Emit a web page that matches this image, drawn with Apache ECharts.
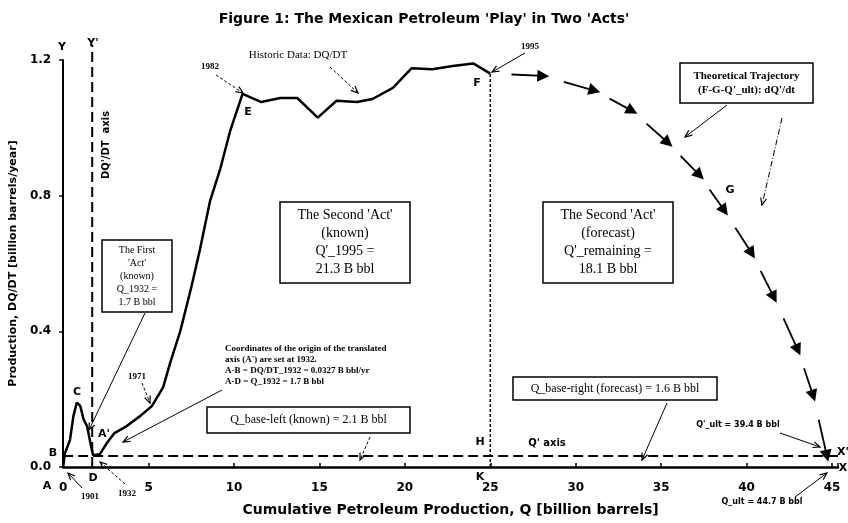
<!DOCTYPE html>
<html>
<head>
<meta charset="utf-8">
<script src="https://cdn.jsdelivr.net/npm/echarts@6/dist/echarts.min.js"></script>
<style>
  html, body { margin: 0; padding: 0; background: #fff; }
  #chart { width: 848px; height: 523px; }
</style>
</head>
<body>
<div id="chart"></div>
<script>
// historic production, Q (billion bbl) vs DQ/DT (billion bbl/yr)
const histQ = [0, 0.1, 0.4, 0.6, 0.8, 1.0, 1.2, 1.4, 1.6, 1.75, 2.15, 2.55, 3.0, 3.7, 4.5, 5.2, 5.85, 6.25, 6.85, 7.5, 8.0, 8.6, 9.2, 9.77, 10.5, 11.6, 12.7, 13.7, 14.9, 16.0, 17.2, 18.1, 19.3, 20.4, 21.6, 22.8, 24.0, 25.0];
const histRate = [0, 0.04, 0.08, 0.15, 0.19, 0.18, 0.14, 0.12, 0.07, 0.035, 0.038, 0.07, 0.10, 0.12, 0.15, 0.18, 0.235, 0.305, 0.40, 0.53, 0.64, 0.785, 0.88, 0.99, 1.10, 1.076, 1.088, 1.088, 1.03, 1.08, 1.076, 1.085, 1.118, 1.176, 1.173, 1.182, 1.19, 1.16];
// theoretical trajectory F-G-Q'_ult (arrow heads)
const foreQ = [25, 28.1, 31.1, 33.3, 35.4, 37.25, 38.7, 40.3, 41.6, 43.0, 43.9, 44.7];
const foreRate = [1.16, 1.153, 1.11, 1.05, 0.956, 0.86, 0.756, 0.63, 0.50, 0.345, 0.21, 0.033];
const baseRate = 0.0327;   // A-B
const q1932 = 1.7;         // A-D
const q1995 = 25;
const rate1995 = 1.16;
const xTicks = [0, 5, 10, 15, 20, 25, 30, 35, 40, 45];
const yTicks = [0.0, 0.4, 0.8, 1.2];

const SANS = "DejaVu Sans";
const SERIF = "Liberation Serif";

let arrowSegs = [];
for (let i = 1; i < foreQ.length; i++) {
  let x0 = foreQ[i - 1], y0 = foreRate[i - 1];
  let x1 = foreQ[i], y1 = foreRate[i];
  arrowSegs.push({ coords: [[x0 + 0.4 * (x1 - x0), y0 + 0.4 * (y1 - y0)], [x1, y1]] });
}

// annotation helpers (pixels)
function txt(x, y, text, font, opt) {
  opt = opt || {};
  return {
    type: "text", x: x, y: y, rotation: opt.rot || 0, z: 100,
    style: {
      text: text, font: font, fill: "#000",
      align: opt.align || "center", textAlign: opt.align || "center",
      verticalAlign: "middle", textVerticalAlign: "middle",
      lineHeight: opt.lh
    }
  };
}
function box(x1, y1, x2, y2, text, font, lh) {
  return [
    { type: "rect", z: 90, shape: { x: x1, y: y1, width: x2 - x1, height: y2 - y1 },
      style: { fill: "#fff", stroke: "#000", lineWidth: 1.5 } },
    txt((x1 + x2) / 2, (y1 + y2) / 2, text, font, { lh: lh })
  ];
}
function arrow(x1, y1, x2, y2, dash) {
  const a = Math.atan2(y2 - y1, x2 - x1), L = 7, W = 3;
  const c = Math.cos(a), s = Math.sin(a);
  return [
    { type: "line", z: 95, shape: { x1: x1, y1: y1, x2: x2, y2: y2 },
      style: { stroke: "#000", lineWidth: 1, lineDash: dash || null } },
    { type: "polyline", z: 95,
      shape: { points: [[x2 - L * c + W * s, y2 - L * s - W * c], [x2, y2], [x2 - L * c - W * s, y2 - L * s + W * c]] },
      style: { stroke: "#000", lineWidth: 1.2, fill: null } }
  ];
}

const fB = "bold 11px " + SANS;
const fS = "10px " + SERIF;

let graphics = [].concat(
  txt(62, 47, "Y", fB), txt(93, 43, "Y'", fB),
  txt(106, 145, "DQ'/DT  axis", "bold 10px " + SANS, { rot: Math.PI / 2 }),
  txt(77, 392, "C", fB), txt(53, 453, "B", fB), txt(47, 486, "A", fB),
  txt(93, 478, "D", fB), txt(104, 434, "A'", fB),
  txt(90, 497, "1901", "bold 9px " + SERIF), arrow(82, 488, 68, 473),
  txt(127, 494, "1932", "bold 9px " + SERIF), arrow(125, 484, 100, 462, [3, 2]),
  txt(137, 377, "1971", "bold 9px " + SERIF), arrow(142, 383, 150, 403, [3, 2]),
  box(102, 240, 172, 312, "The First\n'Act'\n(known)\nQ_1932 =\n1.7 B bbl", fS, 13),
  arrow(145, 313, 89, 430),
  txt(225, 365, "Coordinates of the origin of the translated\naxis (A') are set at 1932.\nA-B = DQ/DT_1932 = 0.0327 B bbl/yr\nA-D = Q_1932 = 1.7 B bbl", "bold 9px " + SERIF, { align: "left", lh: 11 }),
  arrow(222, 390, 123, 442),
  box(207, 407, 410, 433, "Q_base-left (known) = 2.1 B bbl", "12px " + SERIF),
  arrow(370, 437, 360, 460, [3, 2]),
  box(280, 202, 410, 283, "The Second 'Act'\n(known)\nQ'_1995 =\n21.3 B bbl", "14px " + SERIF, 18),
  box(543, 202, 673, 283, "The Second 'Act'\n(forecast)\nQ'_remaining =\n18.1 B bbl", "14px " + SERIF, 18),
  txt(298, 55, "Historic Data: DQ/DT", "11px " + SERIF), arrow(330, 67, 358, 93, [3, 2]),
  txt(210, 67, "1982", "bold 9px " + SERIF), arrow(216, 75, 243, 93, [3, 2]),
  txt(248, 112, "E", fB),
  txt(530, 47, "1995", "bold 9px " + SERIF), arrow(525, 53, 492, 72),
  txt(477, 83, "F", fB), txt(730, 190, "G", fB),
  box(680, 63, 813, 103, "Theoretical Trajectory\n(F-G-Q'_ult): dQ'/dt", "bold 11px " + SERIF, 14),
  arrow(727, 105, 685, 137), arrow(782, 118, 762, 205, [6, 2, 1, 2]),
  txt(480, 442, "H", fB), txt(480, 477, "K", fB), txt(547, 443, "Q' axis", "bold 10px " + SANS),
  box(513, 377, 717, 400, "Q_base-right (forecast) = 1.6 B bbl", "12px " + SERIF),
  arrow(667, 403, 642, 460),
  txt(738, 425, "Q'_ult = 39.4 B bbl", "bold 8px " + SANS), arrow(780, 433, 820, 447),
  txt(762, 502, "Q_ult = 44.7 B bbl", "bold 8px " + SANS), arrow(795, 497, 827, 473),
  txt(843, 452, "X'", fB), txt(843, 468, "X", fB)
);

const chart = echarts.init(document.getElementById("chart"));
chart.setOption({
  backgroundColor: "#fff",
  animation: false,
  title: {
    text: "Figure 1: The Mexican Petroleum 'Play' in Two 'Acts'",
    left: "center", top: 7,
    textStyle: { fontFamily: SANS, fontWeight: "bold", fontSize: 14, color: "#000" }
  },
  grid: { left: 63, right: 10, top: 60, bottom: 56 },
  xAxis: {
    type: "value", min: 0, max: 45.35, interval: 5,
    name: "Cumulative Petroleum Production, Q [billion barrels]",
    nameLocation: "middle", nameGap: 36,
    nameTextStyle: { fontFamily: SANS, fontWeight: "bold", fontSize: 14, color: "#000" },
    axisLine: { lineStyle: { color: "#000", width: 2.5 } },
    axisTick: { inside: true, length: 4, lineStyle: { color: "#000", width: 1.5 } },
    axisLabel: {
      margin: 15, color: "#000", fontFamily: SANS, fontWeight: "bold", fontSize: 12,
      formatter: v => (xTicks.indexOf(v) >= 0 ? String(v) : "")
    },
    splitLine: { show: false }
  },
  yAxis: {
    type: "value", min: 0, max: 1.2, interval: 0.4,
    name: "Production, DQ/DT [billion barrels/year]",
    nameLocation: "middle", nameGap: 44,
    nameTextStyle: { fontFamily: SANS, fontWeight: "bold", fontSize: 11, color: "#000" },
    axisLine: { show: true, lineStyle: { color: "#000", width: 2 } },
    axisTick: { show: true, length: 4, lineStyle: { color: "#000", width: 1.5 } },
    axisLabel: {
      margin: 12, color: "#000", fontFamily: SANS, fontWeight: "bold", fontSize: 12,
      formatter: v => (yTicks.indexOf(v) >= 0 ? v.toFixed(1) : "")
    },
    splitLine: { show: false }
  },
  series: [
    {
      name: "Historic Data", type: "line", symbol: "none", z: 5,
      data: histQ.map((q, i) => [q, histRate[i]]),
      lineStyle: { color: "#000", width: 2.5 }
    },
    {
      name: "Q' axis", type: "line", symbol: "none", clip: false, z: 4,
      data: [[0, baseRate], [45.35, baseRate]],
      lineStyle: { color: "#000", width: 2, type: [10, 5] }
    },
    {
      name: "DQ'/DT axis", type: "line", symbol: "none", clip: false, z: 4,
      data: [[q1932, 0], [q1932, 1.245]],
      lineStyle: { color: "#000", width: 2, type: [10, 5] }
    },
    {
      name: "1995 divider", type: "line", symbol: "none", z: 4,
      data: [[q1995, 0], [q1995, rate1995]],
      lineStyle: { color: "#000", width: 1.5, type: [3, 2] }
    },
    {
      name: "Theoretical Trajectory", type: "lines", coordinateSystem: "cartesian2d", z: 6,
      symbol: ["none", "triangle"], symbolSize: 12,
      data: arrowSegs,
      lineStyle: { color: "#000", width: 1.8, opacity: 1 }
    }
  ],
  graphic: { elements: graphics }
});
</script>
</body>
</html>
